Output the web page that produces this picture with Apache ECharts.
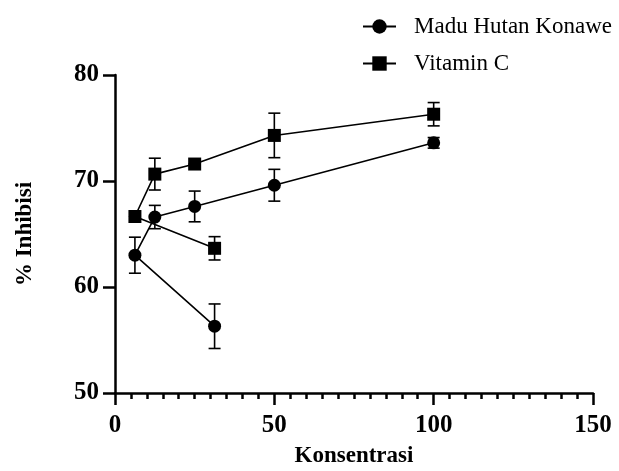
<!DOCTYPE html>
<html>
<head>
<meta charset="utf-8">
<script src="https://cdn.jsdelivr.net/npm/echarts@6/dist/echarts.min.js"></script>
<style>
  html, body { margin: 0; padding: 0; background: #fff; }
  #chart { width: 619px; height: 471px; }
</style>
</head>
<body>
<div id="chart"></div>
<script>
// data (point order kept as plotted, lines follow it)
const konsentrasi = [31.25, 6.25, 12.5, 25, 50, 100];
const maduMean = [56.3, 63.0, 66.6, 67.6, 69.6, 73.6];
const maduErr = [2.1, 1.7, 1.1, 1.45, 1.5, 0.5];
const vitCMean = [63.65, 66.65, 70.65, 71.6, 74.3, 76.3];
const vitCErr = [1.1, 0.0, 1.5, 0.0, 2.1, 1.1];
const xTicks = [0, 50, 100, 150];
const yTicks = [50, 60, 70, 80];

const FONT = '"Liberation Serif", "Times New Roman", serif';

const toPoints = (ys) => konsentrasi.map((x, i) => [x, ys[i]]);
const toErr = (ys, es) => konsentrasi.map((x, i) => [x, ys[i] - es[i], ys[i] + es[i]]);

// error bar: vertical line with caps
function renderErr(params, api) {
  const lo = api.coord([api.value(0), api.value(1)]);
  const hi = api.coord([api.value(0), api.value(2)]);
  const half = 6;
  const style = { stroke: '#000', lineWidth: 1.6 };
  return {
    type: 'group',
    children: [
      { type: 'line', shape: { x1: lo[0], y1: lo[1], x2: hi[0], y2: hi[1] }, style },
      { type: 'line', shape: { x1: lo[0] - half, y1: lo[1], x2: lo[0] + half, y2: lo[1] }, style },
      { type: 'line', shape: { x1: hi[0] - half, y1: hi[1], x2: hi[0] + half, y2: hi[1] }, style },
    ],
  };
}

const chart = echarts.init(document.getElementById('chart'));

const axisCommon = {
  type: 'value',
  axisLine: { show: true, lineStyle: { color: '#000', width: 2.5 } },
  axisTick: { show: true, length: 12, lineStyle: { color: '#000', width: 2.5 } },
  splitLine: { show: false },
  axisLabel: { color: '#000', fontFamily: FONT, fontWeight: 'bold', fontSize: 25 },
  nameTextStyle: { color: '#000', fontFamily: FONT, fontWeight: 'bold', fontSize: 23 },
};

const option = {
  backgroundColor: '#fff',
  animation: false,
  grid: { left: 115, right: 26, top: 75, bottom: 78, outerBoundsMode: 'none', containLabel: false },
  legend: {
    orient: 'vertical',
    left: 357,
    top: 10,
    itemWidth: 33,
    itemHeight: 18,
    itemGap: 14,
    data: ['Madu Hutan Konawe', 'Vitamin C'],
    lineStyle: { width: 2 },
    textStyle: { color: '#000', fontFamily: FONT, fontSize: 23, padding: [0, 0, 0, 13] },
  },
  xAxis: {
    ...axisCommon,
    min: 0,
    max: 150,
    interval: 50,
    minorTick: { show: true, splitNumber: 10, length: 6, lineStyle: { color: '#000', width: 2.5 } },
    axisLabel: { ...axisCommon.axisLabel, margin: 20, formatter: (v) => (xTicks.includes(v) ? String(v) : '') },
    name: 'Konsentrasi',
    nameLocation: 'middle',
    nameGap: 52,
  },
  yAxis: {
    ...axisCommon,
    min: 50,
    max: 80,
    interval: 10,
    axisLabel: { ...axisCommon.axisLabel, margin: 16, formatter: (v) => (yTicks.includes(v) ? String(v) : '') },
    name: '% Inhibisi',
    nameLocation: 'middle',
    nameGap: 78,
  },
  series: [
    {
      name: 'Madu Hutan Konawe',
      type: 'line',
      data: toPoints(maduMean),
      symbol: 'circle',
      symbolSize: 13,
      itemStyle: { color: '#000' },
      lineStyle: { color: '#000', width: 1.6 },
      z: 3,
    },
    {
      name: 'Vitamin C',
      type: 'line',
      data: toPoints(vitCMean),
      symbol: 'rect',
      symbolSize: 13,
      itemStyle: { color: '#000' },
      lineStyle: { color: '#000', width: 1.6 },
      z: 3,
    },
    {
      name: 'err-madu',
      type: 'custom',
      renderItem: renderErr,
      data: toErr(maduMean, maduErr),
      encode: { x: 0, y: [1, 2] },
      z: 2,
    },
    {
      name: 'err-vitc',
      type: 'custom',
      renderItem: renderErr,
      data: toErr(vitCMean, vitCErr),
      encode: { x: 0, y: [1, 2] },
      z: 2,
    },
  ],
};

chart.setOption(option);
</script>
</body>
</html>
